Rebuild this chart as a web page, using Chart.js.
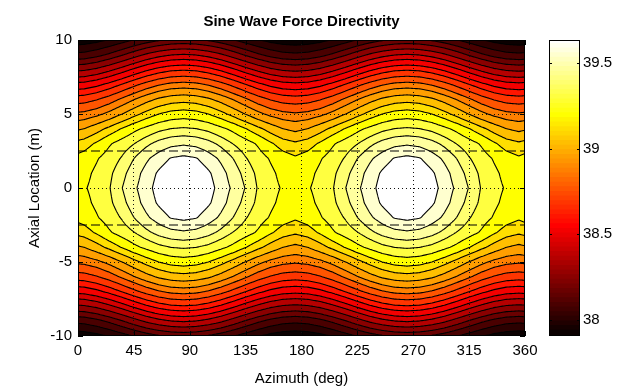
<!DOCTYPE html>
<html>
<head>
<meta charset="utf-8">
<title>Sine Wave Force Directivity</title>
<script src="https://cdn.jsdelivr.net/npm/chart.js@4.4.0/dist/chart.umd.min.js"></script>
<style>
  html, body { margin: 0; padding: 0; background: #fff; }
  #wrap { position: relative; width: 626px; height: 389px; overflow: hidden; }
  #fieldChart { position: absolute; left: 0; top: 0; }
  #colorbarChart { position: absolute; left: 540px; top: 0; }
</style>
</head>
<body>
<div id="wrap">
  <canvas id="fieldChart" width="603" height="389"></canvas>
  <canvas id="colorbarChart" width="86" height="389"></canvas>
</div>
<script>
// --- Chart values ---
const azimuthTicks = [0, 45, 90, 135, 180, 225, 270, 315, 360];
const axialTicks = [-10, -5, 0, 5, 10];
const colorbarTicks = [38, 38.5, 39, 39.5];
const colorRange = [37.905, 39.636];
const contourLevels = [37.99, 38.08, 38.17, 38.25, 38.34, 38.43, 38.51, 38.60, 38.68, 38.77,
                       38.86, 38.94, 39.03, 39.12, 39.20, 39.29, 39.38, 39.46, 39.55, 39.64];
const dashedAxial = [-2.5, 2.5];

// the pattern repeats round each lobe and is mirrored about axial 0,
// so the values are read for one quarter: distance from lobe centre x |axial|
const peakAzimuths = [85, 265];
const offsetFromPeak = [0, 10, 20, 30, 40, 50, 60, 70, 80, 90];   // deg
const axialDistance = [0, 1, 2, 3, 4, 5, 6, 7, 8, 9, 10];        // m
const levelRows = [                                               // dB, one row per axialDistance
  [39.758, 39.741, 39.680, 39.602, 39.533, 39.455, 39.373, 39.317, 39.282, 39.265],
  [39.732, 39.706, 39.654, 39.585, 39.507, 39.429, 39.360, 39.308, 39.265, 39.247],
  [39.663, 39.646, 39.594, 39.533, 39.459, 39.386, 39.330, 39.282, 39.239, 39.213],
  [39.537, 39.524, 39.490, 39.438, 39.377, 39.330, 39.278, 39.213, 39.161, 39.135],
  [39.392, 39.382, 39.356, 39.312, 39.265, 39.204, 39.143, 39.083, 39.031, 39.005],
  [39.243, 39.232, 39.200, 39.150, 39.090, 39.026, 38.965, 38.916, 38.884, 38.872],
  [39.087, 39.076, 39.044, 38.995, 38.935, 38.871, 38.811, 38.762, 38.730, 38.719],
  [38.892, 38.882, 38.850, 38.802, 38.744, 38.681, 38.623, 38.575, 38.543, 38.533],
  [38.671, 38.661, 38.630, 38.583, 38.525, 38.463, 38.406, 38.358, 38.327, 38.316],
  [38.438, 38.427, 38.398, 38.354, 38.298, 38.239, 38.185, 38.140, 38.110, 38.100],
  [38.191, 38.183, 38.160, 38.126, 38.083, 38.038, 37.996, 37.961, 37.939, 37.931]
];

const FONT = '"Liberation Sans", Arial, Helvetica, sans-serif';

// --- helpers ---
function locate(arr, v) {
  let i = 0;
  while (i < arr.length - 2 && v > arr[i + 1]) i++;
  const t = (v - arr[i]) / (arr[i + 1] - arr[i]);
  return [i, Math.max(0, Math.min(1, t))];
}

function fieldValue(az, z) {
  let d = 180;
  peakAzimuths.forEach(p => {
    let diff = Math.abs(az - p) % 360;
    if (diff > 180) diff = 360 - diff;
    d = Math.min(d, diff);
  });
  const [i, u] = locate(offsetFromPeak, Math.min(d, 90));
  const [j, v] = locate(axialDistance, Math.min(Math.abs(z), 10));
  const r0 = levelRows[j], r1 = levelRows[j + 1];
  const a = r0[i] + (r0[i + 1] - r0[i]) * u;
  const b = r1[i] + (r1[i + 1] - r1[i]) * u;
  return a + (b - a) * v;
}

// MATLAB "hot" colormap, 64 entries, idx 1..64
function hotColor(idx) {
  const r = Math.min(1, idx / 24);
  const g = Math.min(1, Math.max(0, (idx - 24) / 24));
  const b = Math.min(1, Math.max(0, (idx - 48) / 16));
  return [Math.round(r * 255), Math.round(g * 255), Math.round(b * 255)];
}

function bandColor(val) {
  let floor = colorRange[0];
  for (const lv of contourLevels) if (val >= lv) floor = lv;
  const f = (floor - colorRange[0]) / (colorRange[1] - colorRange[0]);
  return hotColor(Math.min(64, Math.floor(f * 64) + 1));
}

// --- filled contours + contour lines, drawn through the chart scales ---
const contourPlugin = {
  id: 'contourField',
  beforeDatasetsDraw(chart) {
    const { ctx, chartArea: a, scales: { x, y } } = chart;
    const left = Math.round(a.left), top = Math.round(a.top);
    const w = Math.round(a.right) - left, h = Math.round(a.bottom) - top;
    const img = ctx.createImageData(w, h);
    for (let j = 0; j < h; j++) {
      const zv = y.getValueForPixel(top + j + 0.5);
      for (let i = 0; i < w; i++) {
        const c = bandColor(fieldValue(x.getValueForPixel(left + i + 0.5), zv));
        const o = (j * w + i) * 4;
        img.data[o] = c[0]; img.data[o + 1] = c[1]; img.data[o + 2] = c[2]; img.data[o + 3] = 255;
      }
    }
    ctx.putImageData(img, left, top);

    // contour lines (marching squares)
    const azNodes = [], zNodes = [];
    for (let k = 0; k <= 360; k++) azNodes.push(k);
    for (let k = 0; k <= 200; k++) zNodes.push(-10 + k * 0.1);
    const px = azNodes.map(v => x.getPixelForValue(v));
    const py = zNodes.map(v => y.getPixelForValue(v));
    const grid = zNodes.map(zv => azNodes.map(av => fieldValue(av, zv)));

    ctx.save();
    ctx.beginPath();
    ctx.rect(a.left, a.top, a.right - a.left, a.bottom - a.top);
    ctx.clip();
    ctx.strokeStyle = '#000';
    ctx.lineWidth = 1.1;
    contourLevels.forEach(lv => {
      ctx.beginPath();
      for (let j = 0; j < zNodes.length - 1; j++) {
        for (let i = 0; i < azNodes.length - 1; i++) {
          const v00 = grid[j][i], v10 = grid[j][i + 1], v11 = grid[j + 1][i + 1], v01 = grid[j + 1][i];
          const corners = [[v00, px[i], py[j]], [v10, px[i + 1], py[j]], [v11, px[i + 1], py[j + 1]], [v01, px[i], py[j + 1]]];
          const pts = [];
          for (let e = 0; e < 4; e++) {
            const p = corners[e], q = corners[(e + 1) % 4];
            if ((p[0] >= lv) !== (q[0] >= lv)) {
              const t = (lv - p[0]) / (q[0] - p[0]);
              pts.push([p[1] + (q[1] - p[1]) * t, p[2] + (q[2] - p[2]) * t]);
            }
          }
          for (let s = 0; s + 1 < pts.length; s += 2) {
            ctx.moveTo(pts[s][0], pts[s][1]);
            ctx.lineTo(pts[s + 1][0], pts[s + 1][1]);
          }
        }
      }
      ctx.stroke();
    });
    ctx.restore();
  },
  afterDraw(chart) {
    const { ctx, chartArea: a, scales: { x, y } } = chart;
    ctx.save();
    ctx.strokeStyle = '#000';
    ctx.lineWidth = 1;
    ctx.strokeRect(Math.round(a.left) + 0.5, Math.round(a.top) + 0.5,
                   Math.round(a.right - a.left) - 1, Math.round(a.bottom - a.top) - 1);
    ctx.beginPath();
    azimuthTicks.forEach(v => {
      const p = Math.round(x.getPixelForValue(v)) + 0.5;
      ctx.moveTo(p, a.bottom); ctx.lineTo(p, a.bottom - 5);
      ctx.moveTo(p, a.top); ctx.lineTo(p, a.top + 5);
    });
    axialTicks.forEach(v => {
      const p = Math.round(y.getPixelForValue(v)) + 0.5;
      ctx.moveTo(a.left, p); ctx.lineTo(a.left + 5, p);
      ctx.moveTo(a.right, p); ctx.lineTo(a.right - 5, p);
    });
    ctx.stroke();
    ctx.restore();
  }
};

const gridColor = ctx => {
  const s = ctx.scale;
  return (ctx.tick && (ctx.tick.value === s.min || ctx.tick.value === s.max)) ? 'rgba(0,0,0,0)' : '#111';
};

const fieldChart = new Chart(document.getElementById('fieldChart'), {
  type: 'scatter',
  data: {
    datasets: dashedAxial.map(z => ({
      data: [{ x: 0, y: z }, { x: 360, y: z }],
      showLine: true,
      borderColor: '#000',
      borderWidth: 1.2,
      borderDash: [9, 4],
      pointRadius: 0
    }))
  },
  options: {
    responsive: false,
    animation: false,
    events: [],
    layout: { padding: 0 },
    plugins: {
      legend: { display: false },
      tooltip: { enabled: false },
      title: {
        display: true,
        text: 'Sine Wave Force Directivity',
        color: '#000',
        font: { family: FONT, size: 15, weight: 'bold' },
        padding: { top: 13, bottom: 9 }
      }
    },
    scales: {
      x: {
        type: 'linear', min: 0, max: 360,
        afterBuildTicks: s => { s.ticks = azimuthTicks.map(v => ({ value: v })); },
        afterFit: s => { s.height = 53; },
        ticks: { color: '#000', font: { family: FONT, size: 15 }, padding: 6, maxRotation: 0, autoSkip: false },
        grid: { drawTicks: false, color: gridColor, lineWidth: 1, z: 1 },
        border: { display: false, dash: [1, 3] },
        title: { display: true, text: 'Azimuth (deg)', color: '#000', font: { family: FONT, size: 15 }, padding: { top: 0, bottom: 1 } }
      },
      y: {
        type: 'linear', min: -10, max: 10,
        afterBuildTicks: s => { s.ticks = axialTicks.map(v => ({ value: v })); },
        afterFit: s => { s.width = 78; },
        ticks: { color: '#000', font: { family: FONT, size: 15 }, padding: 6 },
        grid: { drawTicks: false, color: gridColor, lineWidth: 1, z: 1 },
        border: { display: false, dash: [1, 3] },
        title: { display: true, text: 'Axial Location (m)', color: '#000', font: { family: FONT, size: 15 }, padding: { top: 26, bottom: 0 } }
      },
      // empty right-hand axis keeping room for the colour bar, so the title centres over the plot
      yRight: {
        type: 'linear', position: 'right', min: -10, max: 10,
        afterFit: s => { s.width = 78; },
        ticks: { display: false },
        grid: { display: false, drawTicks: false },
        border: { display: false }
      }
    }
  },
  plugins: [contourPlugin]
});

// --- colour bar ---
const colorSteps = [];
for (let i = 0; i < 64; i++) {
  const span = colorRange[1] - colorRange[0];
  colorSteps.push([colorRange[0] + span * i / 64, colorRange[0] + span * (i + 1.3) / 64]);
}

const colorbarFrame = {
  id: 'colorbarFrame',
  afterDraw(chart) {
    const { ctx, chartArea: a, scales: { y } } = chart;
    ctx.save();
    ctx.strokeStyle = '#000';
    ctx.lineWidth = 1;
    ctx.strokeRect(Math.round(a.left) + 0.5, Math.round(a.top) + 0.5,
                   Math.round(a.right - a.left) - 1, Math.round(a.bottom - a.top) - 1);
    ctx.beginPath();
    colorbarTicks.forEach(v => {
      const p = Math.round(y.getPixelForValue(v)) + 0.5;
      ctx.moveTo(a.left, p); ctx.lineTo(a.left + 3, p);
      ctx.moveTo(a.right, p); ctx.lineTo(a.right - 3, p);
    });
    ctx.stroke();
    ctx.restore();
  }
};

const colorbarChart = new Chart(document.getElementById('colorbarChart'), {
  type: 'bar',
  data: {
    labels: [''],
    datasets: colorSteps.map((r, i) => {
      const c = hotColor(i + 1);
      return {
        data: [[r[0], Math.min(colorRange[1], r[1])]],
        backgroundColor: `rgb(${c[0]},${c[1]},${c[2]})`,
        borderWidth: 0,
        barPercentage: 1,
        categoryPercentage: 1,
        grouped: false
      };
    })
  },
  options: {
    responsive: false,
    animation: false,
    events: [],
    layout: { padding: { left: 9, right: 0, top: 40, bottom: 53 } },
    plugins: { legend: { display: false }, tooltip: { enabled: false } },
    scales: {
      x: { display: false },
      y: {
        position: 'right', min: colorRange[0], max: colorRange[1],
        afterBuildTicks: s => { s.ticks = colorbarTicks.map(v => ({ value: v })); },
        afterFit: s => { s.width = 46; },
        ticks: { color: '#000', font: { family: FONT, size: 15 }, padding: 3, callback: v => String(v) },
        grid: { display: false, drawTicks: false },
        border: { display: false }
      }
    }
  },
  plugins: [colorbarFrame]
});
</script>
</body>
</html>
